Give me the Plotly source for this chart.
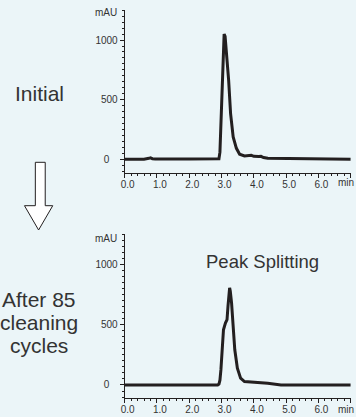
import plotly.graph_objects as go

W, H = 356, 417

# ---- data ----
time_initial = [0.0, 0.6, 0.75, 0.8, 0.86, 0.95, 2.0, 2.85, 2.92, 2.95, 2.98, 3.01, 3.05, 3.08, 3.11,
                3.15, 3.22, 3.28, 3.36, 3.46, 3.56, 3.71, 3.82, 3.92, 4.0, 4.07, 4.15, 4.22, 4.3, 4.43,
                4.8, 5.5, 6.0, 7.0]
mau_initial = [0, 0, 8, 12, 5, 2, 2, 0, 5, 60, 300, 600, 900, 1050, 1030,
               911, 661, 383, 188, 92, 42, 28, 30, 33, 25, 22, 24, 25, 15, 8,
               6, 4, 0, 0]

time_after = [0.0, 1.0, 2.0, 2.88, 2.92, 2.95, 2.98, 3.02, 3.06, 3.12, 3.17, 3.20, 3.24, 3.25,
              3.27, 3.31, 3.36, 3.41, 3.49, 3.59, 3.71, 4.02, 4.43, 4.84, 6.0, 7.0]
mau_after = [0, 1, 0, 0, 8, 40, 125, 319, 458, 514, 542, 653, 792, 806,
             780, 681, 486, 292, 139, 56, 28, 22, 14, 0, 0, 0]

x_tickvals = [0, 1, 2, 3, 4, 5, 6, 7]
x_ticktext = ["0.0", "1.0", "2.0", "3.0", "4.0", "5.0", "6.0", ""]
x_unit = "min"
y_tickvals = [0, 500, 1000]
y_ticktext = ["0\u00a0\u00a0\u00a0", "500", "1000"]
y_unit = "mAU"

BG = "#ebf5f8"
INK = "#231f20"
TXT = "#333333"
FONT = "Liberation Sans, Arial, sans-serif"


def px_x(px):
    return px / W


def px_y(py):
    return 1 - py / H


fig = go.Figure()
fig.add_trace(go.Scatter(x=time_initial, y=mau_initial, mode="lines",
                         line=dict(color=INK, width=3), xaxis="x", yaxis="y",
                         showlegend=False, hoverinfo="skip"))
fig.add_trace(go.Scatter(x=time_after, y=mau_after, mode="lines",
                         line=dict(color=INK, width=3), xaxis="x2", yaxis="y2",
                         showlegend=False, hoverinfo="skip"))

xdom = [px_x(122), px_x(350.7)]


def xax(anchor):
    return dict(domain=xdom, range=[0, 7], anchor=anchor, showgrid=False, zeroline=False,
                showline=True, linecolor=INK, linewidth=1,
                ticks="outside", ticklen=4, tickwidth=1, tickcolor=INK,
                tickvals=x_tickvals, ticktext=x_ticktext, ticklabelshift=3,
                ticklabelstandoff=-2,
                tickfont=dict(family=FONT, size=10, color=TXT),
                minor=dict(dtick=0.2, ticks="outside", ticklen=2, tickcolor=INK, tickwidth=1,
                           showgrid=False),
                fixedrange=True)


def yax(anchor, dom, rng):
    return dict(domain=dom, range=rng, anchor=anchor, showgrid=False, zeroline=False,
                showline=True, linecolor=INK, linewidth=1,
                ticks="outside", ticklen=4, tickwidth=1, tickcolor=INK,
                tickvals=y_tickvals, ticktext=y_ticktext,
                tickfont=dict(family=FONT, size=10, color=TXT),
                minor=dict(dtick=50, ticks="outside", ticklen=2, tickcolor=INK, tickwidth=1,
                           showgrid=False),
                fixedrange=True)


fig.update_layout(
    width=W, height=H,
    margin=dict(l=0, r=0, t=0, b=0),
    paper_bgcolor=BG, plot_bgcolor=BG,
    xaxis=xax("y"),
    yaxis=yax("x", [px_y(173), px_y(10)], [-115, 1252]),
    xaxis2=xax("y2"),
    yaxis2=yax("x2", [px_y(398), px_y(234)], [-108, 1252]),
    font=dict(family=FONT, color=TXT),
)

ann = []


def label(text, x, y, size, xanchor="center"):
    ann.append(dict(text=text, x=px_x(x), y=px_y(y), xref="paper", yref="paper",
                    xanchor=xanchor, yanchor="middle", showarrow=False,
                    font=dict(family=FONT, size=size, color=TXT)))


label(y_unit, 116, 12.5, 10, xanchor="right")
label(y_unit, 116, 238, 10, xanchor="right")
label(x_unit, 355.5, 183, 10, xanchor="right")
label(x_unit, 355.5, 409, 10, xanchor="right")
label("Initial", 35.5, 94, 21)
label("After 85", 35.5, 299, 21)
label("cleaning", 35.5, 322, 21)
label("cycles", 35, 345, 21)
label("Peak Splitting", 261.3, 261, 18.5)
fig.update_layout(annotations=ann)

# hollow down arrow
pts = [(31.7, 162.3), (41.7, 162.3), (41.7, 205.7), (49.3, 205.7), (35, 230),
       (20.7, 205.7), (31.7, 205.7)]
path = "M " + " L ".join(f"{px_x(a):.5f},{px_y(b):.5f}" for a, b in pts) + " Z"
fig.add_shape(type="path", path=path, xref="paper", yref="paper",
              fillcolor="white", line=dict(color=INK, width=1))

fig.write_html("out.html", config={"displayModeBar": False},
               post_script="document.body.style.margin='0';document.body.style.background='" + BG + "';")
